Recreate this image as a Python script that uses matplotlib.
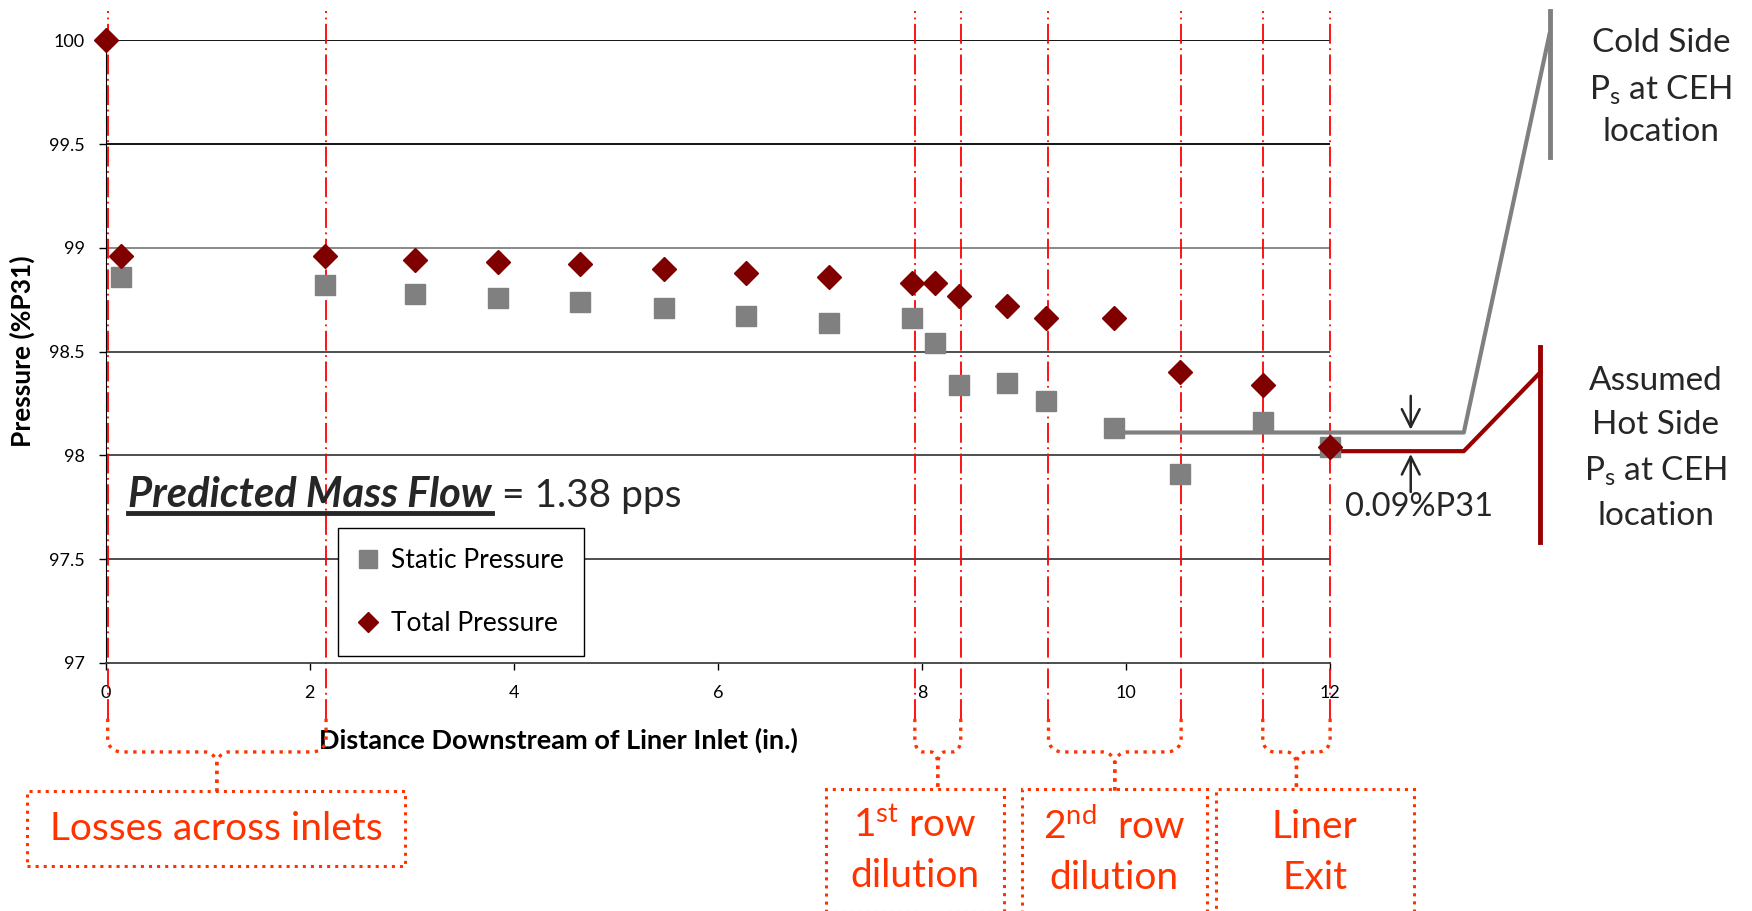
import matplotlib
matplotlib.use("Agg")
import matplotlib.pyplot as plt
import numpy as np
from matplotlib.patches import Rectangle
from matplotlib.lines import Line2D

plt.rcParams['font.family'] = ['Lato', 'DejaVu Sans']
plt.rcParams['mathtext.fontset'] = 'custom'
plt.rcParams['mathtext.rm'] = 'Lato'
plt.rcParams['mathtext.it'] = 'Lato:italic'
plt.rcParams['mathtext.bf'] = 'Lato:bold'

########################################################
# Data
########################################################

static_x = [0.15, 2.15, 3.03, 3.85, 4.65, 5.47, 6.28, 7.09, 7.90,
            8.13, 8.36, 8.83, 9.22, 9.88, 10.53, 11.34, 12.0]
static_p = [98.86, 98.82, 98.78, 98.76, 98.74, 98.71, 98.67, 98.64, 98.66,
            98.54, 98.34, 98.35, 98.26, 98.13, 97.91, 98.16, 98.04]

total_x = [0.0, 0.15, 2.15, 3.03, 3.85, 4.65, 5.47, 6.28, 7.09, 7.90,
           8.13, 8.36, 8.83, 9.22, 9.88, 10.53, 11.34, 12.0]
total_p = [100.0, 98.96, 98.96, 98.94, 98.93, 98.92, 98.90, 98.88, 98.86, 98.83,
           98.83, 98.77, 98.72, 98.66, 98.66, 98.40, 98.34, 98.04]

# hole / feature locations (in.)
feature_x = [0.02, 2.16, 7.93, 8.38, 9.24, 10.54, 11.34, 12.0]
feature_groups = [(0, 1), (2, 3), (4, 5), (6, 7)]

cold_side_ps = 98.11
hot_side_ps = 98.02

x_ticks = [0, 2, 4, 6, 8, 10, 12]
y_ticks = [97, 97.5, 98, 98.5, 99, 99.5, 100]
grid_colors = ["#404040", "#404040", "#404040", "#808080", "#000000", "#000000"]

ORANGE = "#FF3300"
DARKRED = "#990000"
TEXT = "#262626"

########################################################
# Figure / axes
########################################################

fig = plt.figure(figsize=(17.52, 9.11), dpi=100)
ax = fig.add_axes([0.0603, 0.2725, 0.6989, 0.6831])

ax.set_xlim(0, 12)
ax.set_ylim(97, 100)

for yv, c in zip(y_ticks[1:], grid_colors):
    ax.axhline(yv, color=c, lw=1.3, zorder=1)

for side in ["top", "right"]:
    ax.spines[side].set_visible(False)
ax.spines["left"].set_color("black")
ax.spines["bottom"].set_color("#404040")
ax.spines["bottom"].set_linewidth(1.3)

ax.set_xticks(x_ticks)
ax.set_xticklabels([str(v) for v in x_ticks])
ax.set_yticks(y_ticks)
ax.set_yticklabels(["97", "97.5", "98", "98.5", "99", "99.5", "100"])
ax.tick_params(axis="both", direction="out", length=5, width=1,
               labelsize=13, colors="black")
ax.tick_params(axis="x", pad=11)
ax.tick_params(axis="y", pad=10)

ax.set_xlabel("Distance Downstream of Liner Inlet (in.)", fontsize=19.5,
              fontweight="bold")
ax.xaxis.set_label_coords(0.37, -0.105)
ax.set_ylabel("Pressure (%P31)", fontsize=19, fontweight="bold")
ax.yaxis.set_label_coords(-0.058, 0.5)

########################################################
# Feature lines
########################################################

line_top = 100.14
line_bottom = 96.73
ax.vlines(feature_x, line_bottom, line_top, colors="#FF0000", lw=1.3,
          linestyles=[(0, (11, 2.5, 1, 2.5))], clip_on=False, zorder=2)

########################################################
# Markers
########################################################

ax.plot(static_x, static_p, linestyle="none", marker="s", markersize=14.5,
        color="#808080", label="Static Pressure", zorder=4, clip_on=False)
ax.plot(total_x, total_p, linestyle="none", marker="D", markersize=12,
        color="#800000", label="Total Pressure", zorder=5, clip_on=False)

leg = ax.legend(loc="upper left", bbox_to_anchor=(0.193, 0.42),
                bbox_transform=fig.transFigure, fontsize=19,
                frameon=True, fancybox=False, edgecolor="black",
                borderpad=0.75, labelspacing=1.45, handlelength=0.8,
                handletextpad=0.45, borderaxespad=0, framealpha=1,
                markerscale=0.85)
leg.get_frame().set_linewidth(1.0)

########################################################
# Cold / hot side lines
########################################################

knee_x = 13.31
cold_top_x = 14.15
hot_top_x = 14.06

ax.plot([9.88, knee_x, cold_top_x], [cold_side_ps, cold_side_ps, 100.03],
        color="#808080", lw=3, clip_on=False, zorder=3)
ax.plot([cold_top_x, cold_top_x], [100.14, 99.44],
        color="#808080", lw=3.5, clip_on=False, zorder=3)

ax.plot([12.0, knee_x, hot_top_x], [hot_side_ps, hot_side_ps, 98.40],
        color=DARKRED, lw=3, clip_on=False, zorder=3)
ax.plot([hot_top_x, hot_top_x], [98.52, 97.58],
        color=DARKRED, lw=3.5, clip_on=False, zorder=3)

ax.annotate("", xy=(12.79, cold_side_ps), xytext=(12.79, 98.30),
            arrowprops=dict(arrowstyle="->", color=TEXT, lw=1.8,
                            mutation_scale=32), annotation_clip=False)
ax.annotate("", xy=(12.79, hot_side_ps), xytext=(12.79, 97.81),
            arrowprops=dict(arrowstyle="->", color=TEXT, lw=1.8,
                            mutation_scale=32), annotation_clip=False)
ax.text(12.87, 97.75, "0.09%P31", fontsize=23.5, color=TEXT,
        ha="center", va="center", clip_on=False)

for yf, s in zip([0.953, 0.901, 0.855],
                 ["Cold Side", r"P$_\mathrm{s}$ at CEH", "location"]):
    fig.text(0.948, yf, s, fontsize=24, color=TEXT, ha="center", va="center")

for yf, s in zip([0.582, 0.533, 0.483, 0.434],
                 ["Assumed", "Hot Side", r"P$_\mathrm{s}$ at CEH", "location"]):
    fig.text(0.945, yf, s, fontsize=24, color=TEXT, ha="center", va="center")

########################################################
# Predicted mass flow
########################################################

t1 = ax.text(0.22, 97.75, "Predicted Mass Flow", fontsize=30,
             fontweight="bold", fontstyle="italic", color=TEXT,
             ha="left", va="baseline")
ax.annotate(" = 1.38 pps", xy=(1, 0), xycoords=t1, fontsize=28,
            color=TEXT, ha="left", va="bottom")

fig.canvas.draw()
bb = t1.get_window_extent()
base = ax.transData.transform((0.22, 97.75))[1]
inv = fig.transFigure.inverted()
p0 = inv.transform((bb.x0, base - 6))
p1 = inv.transform((bb.x1, base - 6))
fig.add_artist(Line2D([p0[0], p1[0]], [p0[1], p1[1]], color=TEXT, lw=3.5))

########################################################
# Brackets and labels under the axis
########################################################

y_bar = 96.57
y_box = 96.38


def draw_bracket(xa, xb):
    c = 0.5 * (xa + xb)
    half = 0.5 * (xb - xa)
    rx = min(0.14, half * 0.35)
    rc = min(0.12, half * 0.3)
    ry = 0.06
    t = np.linspace(0, np.pi / 2, 20)
    for sgn, xe in [(1, xa), (-1, xb)]:
        corner_x = xe + sgn * (rx - rx * np.cos(t))
        corner_y = y_bar + ry - ry * np.sin(t)
        tip_x = c - sgn * (rc - rc * np.sin(t))
        tip_y = y_bar - ry + ry * np.cos(t)
        xs = np.r_[xe, corner_x, tip_x, c]
        ys = np.r_[line_bottom, corner_y, tip_y, y_box]
        ax.plot(xs, ys, color=ORANGE, lw=2.4, linestyle=":",
                clip_on=False, zorder=2)


for ia, ib in feature_groups:
    draw_bracket(feature_x[ia], feature_x[ib])

boxes = [
    ((-0.77, 96.02, 3.70, 0.36), ["Losses across inlets"]),
    ((7.06, 95.80, 1.74, 0.59), [r"1$^\mathrm{st}$ row", "dilution"]),
    ((8.98, 95.79, 1.81, 0.60), [r"2$^\mathrm{nd}$  row", "dilution"]),
    ((10.88, 95.79, 1.94, 0.60), ["Liner", "Exit"]),
]

for (bx, by, bw, bh), lines in boxes:
    ax.add_patch(Rectangle((bx, by), bw, bh, fill=False, edgecolor=ORANGE,
                           lw=2.2, linestyle=":", clip_on=False))
    cx = bx + bw / 2
    if len(lines) == 1:
        ax.text(cx, by + bh / 2, lines[0], fontsize=28, color=ORANGE,
                ha="center", va="center", clip_on=False)
    else:
        for k, s in enumerate(lines):
            ax.text(cx, by + bh * (0.70 - 0.41 * k), s, fontsize=28,
                    color=ORANGE, ha="center", va="center", clip_on=False)

fig.savefig("out.png", dpi=100)
